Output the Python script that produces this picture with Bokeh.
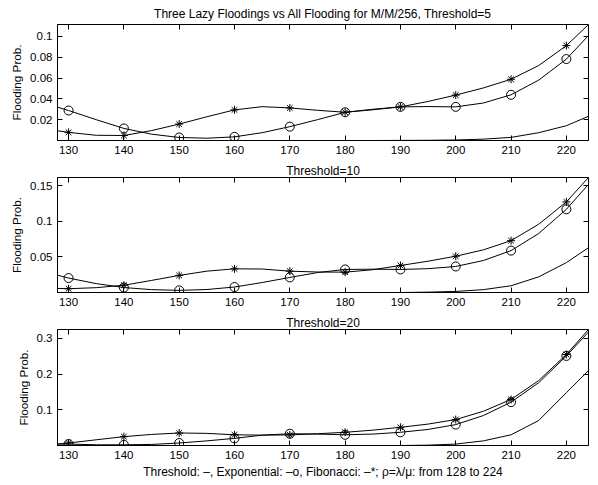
from bokeh.plotting import figure
from bokeh.layouts import column
from bokeh.models import (Range1d, FixedTicker, LinearAxis, Title,
                          CustomLabelingPolicy)
from bokeh.embed import file_html
from bokeh.resources import INLINE

FONT = "Liberation Sans"

# load factor rho (x) sampled along the curves; markers sit on the multiples of 10
rho = [128, 130, 135, 140, 145, 150, 155, 160, 165, 170, 175,
       180, 185, 190, 195, 200, 205, 210, 215, 220, 224]
x_ticks = [130, 140, 150, 160, 170, 180, 190, 200, 210, 220]
x_tick_labels = ["130", "140", "150", "160", "170", "180", "190", "200", "210", "220"]

# Threshold = 5
thr_5 = [0, 0, 0, 0, 0, 0, 0, 0, 0, 0, 0,
         0, 0, 0.0001, 0.0002, 0.0005, 0.0013, 0.003, 0.0075, 0.0142, 0.0233]
exp_5 = [0.032, 0.0288, 0.020, 0.0116, 0.0061, 0.0029, 0.0022, 0.0035, 0.0075, 0.0133, 0.020,
         0.0271, 0.030, 0.0323, 0.0326, 0.0323, 0.036, 0.0439, 0.058, 0.0782, 0.1008]
fib_5 = [0.0094, 0.0078, 0.0050, 0.0048, 0.0095, 0.0158, 0.0228, 0.0294, 0.0325, 0.0313, 0.029,
         0.0271, 0.0295, 0.0323, 0.0375, 0.0436, 0.0505, 0.0588, 0.072, 0.0911, 0.1114]
y_ticks_5 = [0.02, 0.04, 0.06, 0.08, 0.1]
y_labels_5 = ["0.02", "0.04", "0.06", "0.08", "0.1"]

# Threshold = 10
thr_10 = [0, 0, 0, 0, 0, 0, 0, 0, 0, 0, 0,
          0, 0, 0, 0.0005, 0.0015, 0.004, 0.0095, 0.022, 0.042, 0.063]
exp_10 = [0.0244, 0.0203, 0.0125, 0.0070, 0.0040, 0.0030, 0.0042, 0.0077, 0.014, 0.0212, 0.028,
          0.0324, 0.0328, 0.0324, 0.0335, 0.0366, 0.045, 0.0589, 0.083, 0.117, 0.152]
fib_10 = [0.0058, 0.0053, 0.0068, 0.0102, 0.017, 0.024, 0.030, 0.0333, 0.0330, 0.0300, 0.0288,
          0.0286, 0.032, 0.038, 0.044, 0.051, 0.060, 0.0729, 0.096, 0.1274, 0.1617]
y_ticks_10 = [0.05, 0.1, 0.15]
y_labels_10 = ["0.05", "0.1", "0.15"]

# Threshold = 20
thr_20 = [0, 0, 0, 0, 0, 0, 0, 0, 0, 0, 0,
          0, 0, 0, 0.001, 0.004, 0.013, 0.030, 0.070, 0.148, 0.210]
exp_20 = [0.004, 0.004, 0.002, 0.002, 0.003, 0.007, 0.013, 0.020, 0.029, 0.033, 0.032,
          0.030, 0.032, 0.037, 0.045, 0.0586, 0.084, 0.1215, 0.176, 0.251, 0.318]
fib_20 = [0.004, 0.007, 0.016, 0.0248, 0.031, 0.035, 0.034, 0.030, 0.029, 0.0296, 0.033,
          0.037, 0.043, 0.051, 0.060, 0.0727, 0.096, 0.129, 0.182, 0.255, 0.325]
y_ticks_20 = [0.1, 0.2, 0.3]
y_labels_20 = ["0.1", "0.2", "0.3"]

X_LABEL = "Threshold: \u2013, Exponential: \u2013o, Fibonacci: \u2013*; \u03c1=\u03bb/\u03bc: from 128 to 224"

# tick marks only: drop every label on the mirrored top/right axes
NO_LABELS = CustomLabelingPolicy(code="""
const ids = Array.from(indices)
for (const i of ids) {
  if (typeof indices.unset === "function") indices.unset(i)
  else indices.set(i, false)
}
return indices
""")


def blank_axis(ticker):
    ax = LinearAxis(ticker=ticker, major_label_policy=NO_LABELS)
    ax.major_label_text_font_size = "0px"
    ax.major_label_standoff = 0
    ax.major_tick_in = 5
    ax.major_tick_out = 0
    ax.minor_tick_in = 0
    ax.minor_tick_out = 0
    ax.axis_line_color = None
    ax.major_tick_line_color = "black"
    return ax


def panel(title, thr, exp, fib, y_ticks, y_labels, height, top, bottom,
          title_standoff, x_label=None):
    ymax = max(thr + exp + fib)
    p = figure(width=598, height=height, x_range=Range1d(128, 224),
               y_range=Range1d(0, ymax), output_backend="svg",
               toolbar_location=None, min_border_left=57, min_border_right=10,
               min_border_top=top, min_border_bottom=bottom)
    p.grid.visible = False
    p.outline_line_color = "black"
    p.outline_line_alpha = 1
    p.outline_line_width = 1
    p.background_fill_color = "white"
    p.border_fill_color = "white"

    xt = FixedTicker(ticks=x_ticks)
    yt = FixedTicker(ticks=y_ticks)

    for ax in p.xaxis:
        ax.ticker = xt
        ax.major_label_overrides = dict(zip(x_ticks, x_tick_labels))
    for ax in p.yaxis:
        ax.ticker = yt
        ax.major_label_overrides = dict(zip(y_ticks, y_labels))
        ax.axis_label = "Flooding Prob."
        ax.axis_label_standoff = 4
    for ax in p.xaxis + p.yaxis:
        ax.major_tick_in = 5
        ax.major_tick_out = 0
        ax.minor_tick_in = 0
        ax.minor_tick_out = 0
        ax.axis_line_color = "black"
        ax.major_tick_line_color = "black"
        ax.major_label_text_font = FONT
        ax.major_label_text_font_size = "11.5px"
        ax.major_label_text_color = "black"
        ax.major_label_standoff = 5
        ax.axis_label_text_font = FONT
        ax.axis_label_text_font_size = "11.7px"
        ax.axis_label_text_font_style = "normal"
        ax.axis_label_text_color = "black"
    if x_label:
        p.xaxis.axis_label = x_label
        p.xaxis.axis_label_text_font_size = "12px"
        p.xaxis.axis_label_standoff = 3

    p.add_layout(blank_axis(xt), "above")
    p.add_layout(blank_axis(yt), "right")

    t = Title(text=title, align="center", text_font=FONT, text_font_size="12px",
              text_font_style="normal", text_color="black", standoff=title_standoff)
    p.add_layout(t, "above")

    xm = [x for x in rho if x in x_ticks]
    exp_m = [v for x, v in zip(rho, exp) if x in x_ticks]
    fib_m = [v for x, v in zip(rho, fib) if x in x_ticks]

    for series in (thr, exp, fib):
        p.line(rho, series, line_color="black", line_width=1)
    p.scatter(xm, exp_m, marker="circle", size=9, fill_color=None,
              line_color="black", line_width=1)
    p.scatter(xm, fib_m, marker="asterisk", size=8, line_color="black",
              line_width=1)
    return p


p1 = panel("Three Lazy Floodings vs All Flooding for M/M/256, Threshold=5",
           thr_5, exp_5, fib_5, y_ticks_5, y_labels_5, 160, 24, 20, 7)
p2 = panel("Threshold=10", thr_10, exp_10, fib_10, y_ticks_10, y_labels_10,
           153, 17, 21, 0)
p3 = panel("Threshold=20", thr_20, exp_20, fib_20, y_ticks_20, y_labels_20,
           172, 16, 40, 0, x_label=X_LABEL)

layout = column(p1, p2, p3, spacing=0)
open("out.html", "w").write(file_html(layout, INLINE))
